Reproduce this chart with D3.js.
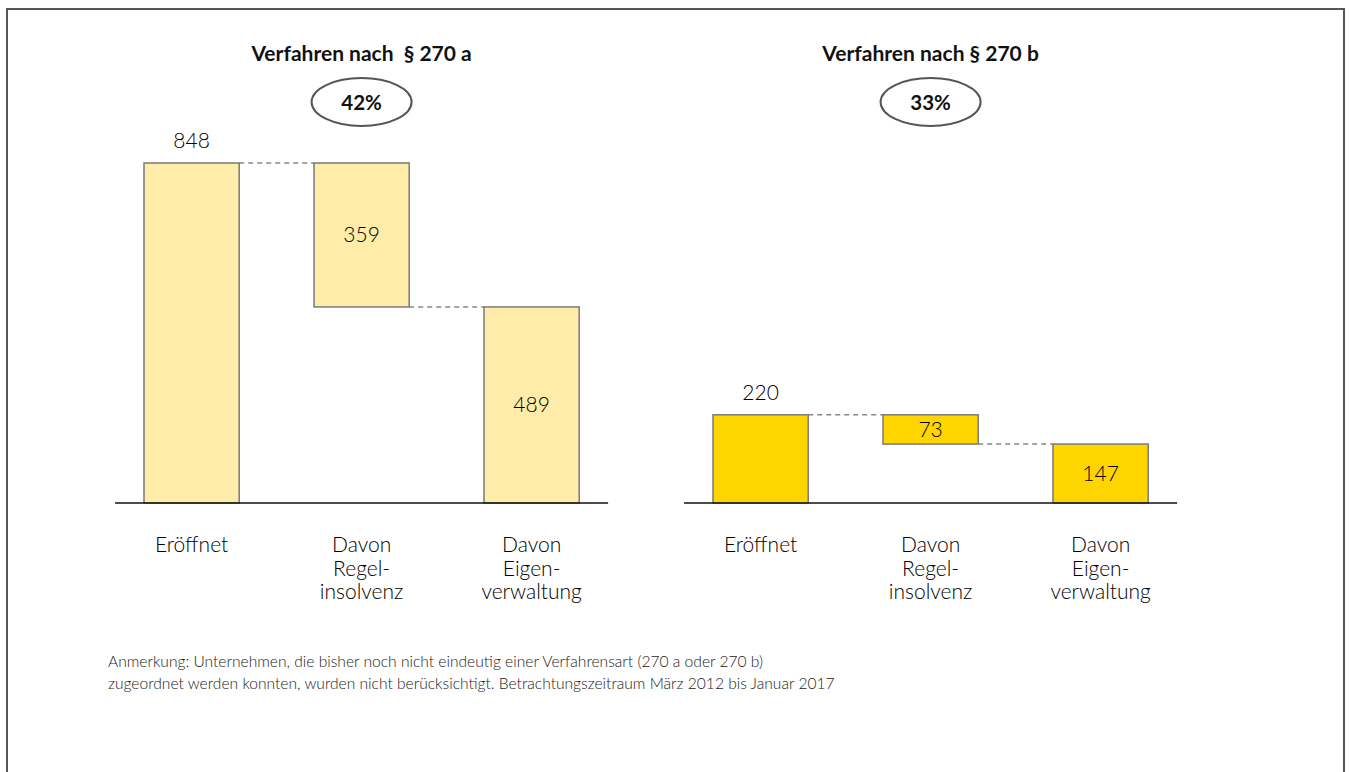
<!DOCTYPE html>
<html>
<head>
<meta charset="utf-8">
<script src="https://cdn.jsdelivr.net/npm/d3@7"></script>
<style>
  body { margin: 0; background: #fff; }
  svg { display: block; font-family: Lato, "Open Sans", sans-serif; }
  .light { font-weight: 300; }
</style>
</head>
<body>
<svg id="chart" width="1349" height="772"></svg>
<script>
// data
var categoryLines = [["Eröffnet"], ["Davon", "Regel-", "insolvenz"], ["Davon", "Eigen-", "verwaltung"]];
var panelTitles = ["Verfahren nach \u00a0§ 270 a", "Verfahren nach § 270 b"];
var panelShares = ["42%", "33%"];
var values270a = [848, 359, 489];
var values270b = [220, 73, 147];
var noteLines = [
  "Anmerkung: Unternehmen, die bisher noch nicht eindeutig einer Verfahrensart (270 a oder 270 b)",
  "zugeordnet werden konnten, wurden nicht berücksichtigt. Betrachtungszeitraum März 2012 bis Januar 2017"
];

var svg = d3.select("#chart");

// frame
svg.append("rect")
  .attr("x", 7).attr("y", 9)
  .attr("width", 1337).attr("height", 800)
  .attr("fill", "none")
  .attr("stroke", "#555")
  .attr("stroke-width", 2);

var y = d3.scaleLinear()
  .domain([0, 848])
  .range([503, 163]);

var panels = [
  { title: panelTitles[0], share: panelShares[0], values: values270a, fill: "#ffeca8", range: [106.6, 616.6] },
  { title: panelTitles[1], share: panelShares[1], values: values270b, fill: "#ffd500", range: [675.6, 1185.6] }
];

panels.forEach(function (p) {
  var x = d3.scaleBand()
    .domain(d3.range(categoryLines.length))
    .range(p.range)
    .paddingInner(0.44)
    .paddingOuter(0.22);

  // waterfall segments
  var segs = [];
  var top = p.values[0];
  segs.push({ i: 0, lo: 0, hi: top, v: p.values[0] });
  for (var k = 1; k < p.values.length; k++) {
    var lo = k === p.values.length - 1 ? 0 : top - p.values[k];
    segs.push({ i: k, lo: lo, hi: top, v: p.values[k] });
    top = lo;
  }

  var g = svg.append("g");
  var mid = x(1) + x.bandwidth() / 2;

  g.append("text")
    .attr("x", mid).attr("y", 61)
    .attr("text-anchor", "middle")
    .attr("font-size", 21)
    .attr("font-weight", "bold")
    .attr("fill", "#111")
    .text(p.title);

  g.append("ellipse")
    .attr("cx", mid).attr("cy", 102)
    .attr("rx", 50).attr("ry", 24)
    .attr("fill", "none")
    .attr("stroke", "#555")
    .attr("stroke-width", 2);

  g.append("text")
    .attr("x", mid).attr("y", 110)
    .attr("text-anchor", "middle")
    .attr("font-size", 20.5)
    .attr("font-weight", "bold")
    .attr("fill", "#111")
    .text(p.share);

  // connectors
  g.selectAll("line.conn")
    .data(segs.slice(0, -1))
    .enter().append("line")
    .attr("class", "conn")
    .attr("x1", function (d) { return x(d.i) + x.bandwidth(); })
    .attr("x2", function (d) { return x(d.i + 1); })
    .attr("y1", function (d) { return y(segs[d.i + 1].hi); })
    .attr("y2", function (d) { return y(segs[d.i + 1].hi); })
    .attr("stroke", "#888")
    .attr("stroke-width", 1.5)
    .attr("stroke-dasharray", "5,4");

  g.selectAll("rect.bar")
    .data(segs)
    .enter().append("rect")
    .attr("class", "bar")
    .attr("x", function (d) { return x(d.i); })
    .attr("y", function (d) { return y(d.hi); })
    .attr("width", x.bandwidth())
    .attr("height", function (d) { return y(d.lo) - y(d.hi); })
    .attr("fill", p.fill)
    .attr("stroke", "#7a7a7a")
    .attr("stroke-width", 1.5);

  g.selectAll("text.val")
    .data(segs)
    .enter().append("text")
    .attr("class", "val light")
    .attr("x", function (d) { return x(d.i) + x.bandwidth() / 2; })
    .attr("y", function (d) {
      return d.i === 0 ? y(d.hi) - 15 : (y(d.hi) + y(d.lo)) / 2 + 7.5;
    })
    .attr("text-anchor", "middle")
    .attr("font-size", 21)
    .attr("fill", "#000")
    .text(function (d) { return d.v; });

  g.append("line")
    .attr("x1", p.range[0] + 8.5).attr("x2", p.range[1] - 8.5)
    .attr("y1", y(0)).attr("y2", y(0))
    .attr("stroke", "#111")
    .attr("stroke-width", 1.5);

  var labels = g.selectAll("text.cat")
    .data(categoryLines)
    .enter().append("text")
    .attr("class", "cat light")
    .attr("text-anchor", "middle")
    .attr("font-size", 21)
    .attr("fill", "#000");

  labels.selectAll("tspan")
    .data(function (d, i) { return d.map(function (s) { return { s: s, i: i }; }); })
    .enter().append("tspan")
    .attr("x", function (d) { return x(d.i) + x.bandwidth() / 2; })
    .attr("y", function (d, j) { return 552 + j * 23.5; })
    .text(function (d) { return d.s; });
});

svg.append("g").selectAll("text")
  .data(noteLines)
  .enter().append("text")
  .attr("class", "light")
  .attr("x", 108)
  .attr("y", function (d, i) { return 667 + i * 22; })
  .attr("font-size", 15.6)
  .attr("fill", "#1a1a1a")
  .text(function (d) { return d; });
</script>
</body>
</html>
